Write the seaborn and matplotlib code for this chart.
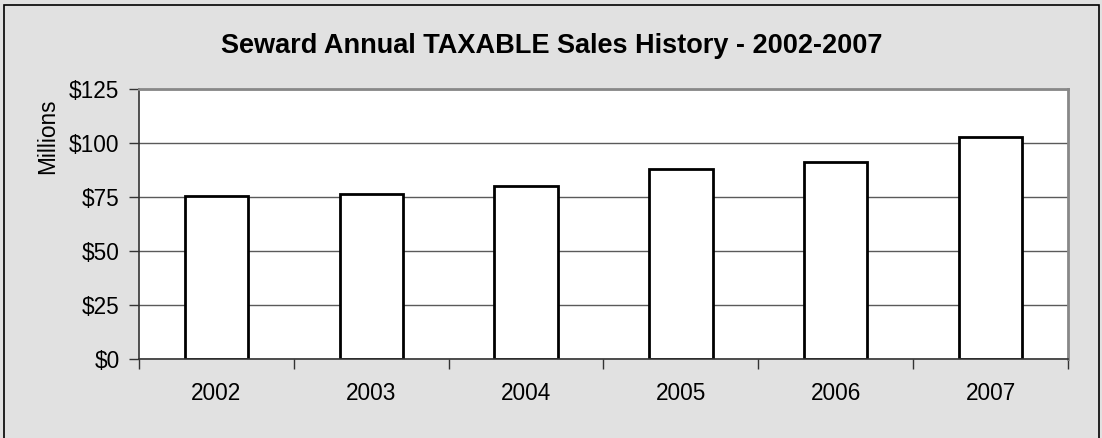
import matplotlib
matplotlib.use("Agg")
import matplotlib.pyplot as plt
from matplotlib.patches import Rectangle
from matplotlib.ticker import FuncFormatter, MultipleLocator, FixedLocator
import seaborn as sns
import pandas as pd

years = ["2002", "2003", "2004", "2005", "2006", "2007"]
sales_millions = [75.7, 76.6, 80.2, 88.2, 91.2, 102.8]

sns.set_theme(style="white")
plt.rcParams["font.family"] = ["Liberation Sans", "DejaVu Sans"]

W, H = 1102, 438
fig = plt.figure(figsize=(W / 100, H / 100), dpi=100)
bg = "#E1E1E1"
fig.patch.set_facecolor(bg)

# outer chart border (bottom runs off the image)
fig.patches.append(Rectangle((4 / W, -0.05), (1099 - 4) / W, (H - 5) / H + 0.05,
                             transform=fig.transFigure, fill=False,
                             edgecolor="black", linewidth=1.2, clip_on=False))

ax = fig.add_axes([139 / W, (H - 359.3) / H, (1068 - 139) / W, (359.3 - 89.3) / H])
ax.set_facecolor("white")

df = pd.DataFrame({"year": years, "sales": sales_millions})
sns.barplot(data=df, x="year", y="sales", ax=ax, color="white",
            edgecolor="black", linewidth=2.0, width=0.41, saturation=1)

ax.set_ylim(0, 125)
ax.set_xlim(-0.5, len(years) - 0.5)
ax.yaxis.set_major_locator(MultipleLocator(25))
ax.yaxis.set_major_formatter(FuncFormatter(lambda v, p: f"${v:.0f}"))
ax.set_axisbelow(True)
ax.grid(axis="y", color="#5a5a5a", linewidth=1.0)
ax.grid(axis="x", visible=False)

ax.set_xlabel("")
ax.set_ylabel("")

# spines
for s in ["top", "right"]:
    ax.spines[s].set_color("#888888")
    ax.spines[s].set_linewidth(2.0)
for s in ["left", "bottom"]:
    ax.spines[s].set_color("#333333")
    ax.spines[s].set_linewidth(1.2)

fs = 16.3
ax.tick_params(axis="y", which="major", direction="out", length=7, width=1,
               color="#333333", pad=7, labelsize=fs, labelcolor="black", left=True)
ax.tick_params(axis="x", which="major", length=0, pad=16.5, labelsize=fs,
               labelcolor="black")
ax.xaxis.set_minor_locator(FixedLocator([i - 0.5 for i in range(len(years) + 1)]))
ax.tick_params(axis="x", which="minor", direction="out", length=7, width=1,
               color="#333333", bottom=True)

fig.text(552 / W, (H - 46) / H, "Seward Annual TAXABLE Sales History - 2002-2007",
         ha="center", va="center", fontsize=19.5, fontweight="bold", color="black")
fig.text(48 / W, (H - 136) / H, "Millions", rotation=90, ha="center", va="center",
         fontsize=fs, color="black")

fig.savefig("out.png", dpi=100, facecolor=bg)
